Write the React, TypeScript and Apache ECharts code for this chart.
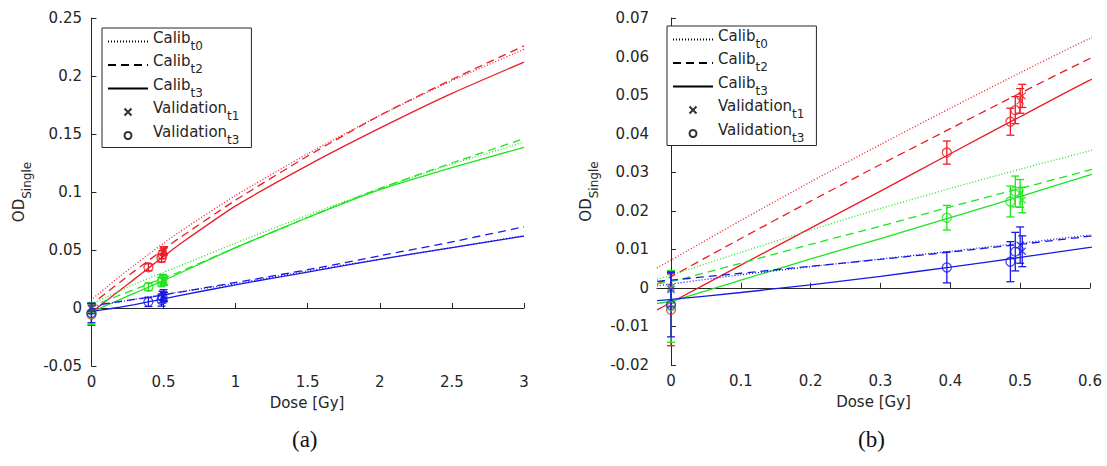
import React, { useEffect, useRef } from 'react';
import * as echarts from 'echarts';

// ---------- data ----------
const calibDose = [-0.02, 0, 0.1, 0.2, 0.3, 0.4, 0.5, 0.6, 1, 1.5, 2, 2.5, 3];
const redCalibT0 = [0.0052, 0.0072, 0.0175, 0.0275, 0.0372, 0.0466, 0.0558, 0.0647, 0.097, 0.133, 0.166, 0.196, 0.223];
const redCalibT2 = [0.0009, 0.0029, 0.0128, 0.0225, 0.032, 0.0413, 0.0505, 0.0595, 0.093, 0.131, 0.166, 0.197, 0.226];
const redCalibT3 = [-0.0057, -0.0038, 0.0059, 0.0155, 0.0251, 0.0348, 0.0444, 0.0539, 0.088, 0.123, 0.155, 0.185, 0.212];
const greenCalibT0 = [0.0022, 0.0033, 0.0092, 0.015, 0.0206, 0.0258, 0.0308, 0.0356, 0.056, 0.08, 0.103, 0.124, 0.143];
const greenCalibT2 = [0.0011, 0.0016, 0.0064, 0.0113, 0.016, 0.021, 0.0258, 0.0306, 0.052, 0.078, 0.103, 0.125, 0.146];
const greenCalibT3 = [-0.004, -0.0035, 0.002, 0.0075, 0.0128, 0.0182, 0.0237, 0.0293, 0.052, 0.078, 0.102, 0.121, 0.1385];
const blueCalibT0 = [0.0005, 0.001, 0.0034, 0.0055, 0.0075, 0.0095, 0.0116, 0.0137, 0.021, 0.032, 0.042, 0.052, 0.0625];
const blueCalibT2 = [0.0017, 0.002, 0.0038, 0.0056, 0.0074, 0.0093, 0.0113, 0.0134, 0.022, 0.033, 0.045, 0.057, 0.07];
const blueCalibT3 = [-0.0033, -0.003, -0.0012, 0.0008, 0.003, 0.0054, 0.0079, 0.0105, 0.02, 0.031, 0.042, 0.052, 0.062];

// validation points: [dose, OD, error]
const redValT1 = [[0, 0.0002, 0.004], [0.5, 0.0485, 0.0032], [0.503, 0.0498, 0.003]];
const redValT3 = [[0, -0.0057, 0.0093], [0.395, 0.0351, 0.003], [0.486, 0.0431, 0.0035], [0.493, 0.0461, 0.0035]];
const greenValT1 = [[0, 0.0, 0.004], [0.5, 0.0245, 0.0036], [0.503, 0.0228, 0.0033]];
const greenValT3 = [[0, -0.0048, 0.0093], [0.395, 0.0182, 0.0032], [0.486, 0.0224, 0.004], [0.493, 0.025, 0.004]];
const blueValT1 = [[0, -0.0004, 0.0045], [0.5, 0.0111, 0.0047], [0.503, 0.0095, 0.004]];
const blueValT3 = [[0, -0.0044, 0.0083], [0.395, 0.0053, 0.004], [0.486, 0.0068, 0.0052], [0.493, 0.0094, 0.005]];

const xTicksA = [0, 0.5, 1, 1.5, 2, 2.5, 3];
const xTicksB = [0, 0.1, 0.2, 0.3, 0.4, 0.5, 0.6];
const legendNames = ['Calib_t0', 'Calib_t2', 'Calib_t3', 'Validation_t1', 'Validation_t3'];
const captions = ['(a)', '(b)'];

// ---------- styles ----------
const RED = 'rgb(236,28,36)';
const GREEN = 'rgb(30,228,30)';
const BLUE = 'rgb(25,25,230)';
const AX = '#262626';
const FONT = 'DejaVu Sans';
const DOTTED = [1, 2];
const DASHED = [8, 5];
const XPATH = 'path://M0,0L10,10M10,0L0,10';

const colorGroups = [
  { color: RED, calib: [redCalibT0, redCalibT2, redCalibT3], t1: redValT1, t3: redValT3 },
  { color: GREEN, calib: [greenCalibT0, greenCalibT2, greenCalibT3], t1: greenValT1, t3: greenValT3 },
  { color: BLUE, calib: [blueCalibT0, blueCalibT2, blueCalibT3], t1: blueValT1, t3: blueValT3 },
];
const calibDash = [DOTTED, DASHED, 'solid'];

const subRich = {
  m: { fontSize: 15, fontFamily: FONT, color: AX, padding: [0, 0, 8, 0] },
  s: { fontSize: 12, fontFamily: FONT, color: AX, padding: [8, 0, 0, 0] },
};
const subFmt = (name: string) => {
  const [a, b] = name.split('_');
  return `{m|${a}}{s|${b}}`;
};

function buildSeries() {
  const series: any[] = [];
  [0, 1].forEach((p) => {
    colorGroups.forEach((g) => {
      g.calib.forEach((vals, k) => {
        series.push({
          type: 'line',
          xAxisIndex: p,
          yAxisIndex: p,
          data: calibDose.map((d, i) => [d, vals[i]]),
          symbol: 'none',
          smooth: 0.2,
          lineStyle: { color: g.color, width: 1.3, type: calibDash[k] },
          silent: true,
          z: 2,
        });
      });
      series.push({
        type: 'custom',
        xAxisIndex: p,
        yAxisIndex: p,
        data: [...g.t1, ...g.t3],
        dimensions: ['x', 'y', 'err'],
        encode: { x: 0, y: 1 },
        clip: false,
        z: 3,
        renderItem: (params: any, api: any) => {
          const x = api.value(0);
          const y = api.value(1);
          const e = api.value(2);
          const top = api.coord([x, y + e]);
          const bot = api.coord([x, y - e]);
          const hw = 4;
          const st = { stroke: g.color, lineWidth: 1.3 };
          return {
            type: 'group',
            children: [
              { type: 'line', shape: { x1: top[0], y1: top[1], x2: bot[0], y2: bot[1] }, style: st },
              { type: 'line', shape: { x1: top[0] - hw, y1: top[1], x2: top[0] + hw, y2: top[1] }, style: st },
              { type: 'line', shape: { x1: bot[0] - hw, y1: bot[1], x2: bot[0] + hw, y2: bot[1] }, style: st },
            ],
          };
        },
      });
      series.push({
        type: 'scatter',
        xAxisIndex: p,
        yAxisIndex: p,
        data: g.t1.map((r) => [r[0], r[1]]),
        symbol: XPATH,
        symbolSize: 7,
        clip: false,
        z: 4,
        itemStyle: { color: 'transparent', borderColor: g.color, borderWidth: 1.3 },
      });
      series.push({
        type: 'scatter',
        xAxisIndex: p,
        yAxisIndex: p,
        data: g.t3.map((r) => [r[0], r[1]]),
        symbol: 'circle',
        symbolSize: 9,
        clip: false,
        z: 4,
        itemStyle: { color: 'transparent', borderColor: g.color, borderWidth: 1.3 },
      });
    });
  });
  // legend-only series (black)
  legendNames.slice(0, 3).forEach((n, k) => {
    series.push({
      name: n,
      type: 'line',
      data: [],
      symbol: 'none',
      lineStyle: { color: '#000', width: 1.2, type: calibDash[k] },
      itemStyle: { color: '#000' },
    });
  });
  series.push({
    name: legendNames[3],
    type: 'scatter',
    data: [],
    symbol: XPATH,
    itemStyle: { color: 'transparent', borderColor: '#000', borderWidth: 1.2 },
  });
  series.push({
    name: legendNames[4],
    type: 'scatter',
    data: [],
    symbol: 'circle',
    itemStyle: { color: 'transparent', borderColor: '#000', borderWidth: 1.2 },
  });
  return series;
}

const axisCommon = {
  axisLine: { show: true, lineStyle: { color: AX, width: 1 } },
  axisTick: { show: true, inside: true, length: 5, lineStyle: { color: AX } },
  splitLine: { show: false },
  axisLabel: { color: AX, fontFamily: FONT, fontSize: 15, margin: 8 },
};

function buildOption(): any {
  const grids = [
    { left: 90, top: 18, width: 434, height: 348 },
    { left: 657, top: 18, width: 433, height: 347 },
  ];
  const xAxes = [
    { min: -0.01, max: 3, ticks: xTicksA },
    { min: -0.02, max: 0.6, ticks: xTicksB },
  ].map((a, i) => ({
    type: 'value',
    gridIndex: i,
    min: a.min,
    max: a.max,
    ...axisCommon,
    axisTick: { ...axisCommon.axisTick, customValues: a.ticks },
    axisLabel: { ...axisCommon.axisLabel, customValues: a.ticks },
    name: 'Dose [Gy]',
    nameLocation: 'middle',
    nameGap: 29,
    nameTextStyle: { color: AX, fontFamily: FONT, fontSize: 15 },
  }));
  const yAxes = [
    { min: -0.05, max: 0.25, interval: 0.05 },
    { min: -0.02, max: 0.07, interval: 0.01 },
  ].map((a, i) => ({
    type: 'value',
    gridIndex: i,
    min: a.min,
    max: a.max,
    interval: a.interval,
    ...axisCommon,
    name: '{m|OD}{s|Single}',
    nameLocation: 'middle',
    nameRotate: 90,
    nameGap: 56,
    nameTextStyle: { rich: subRich },
  }));
  const legendData = legendNames.map((n, k) =>
    k < 3 ? { name: n, itemStyle: { opacity: 0 } } : { name: n }
  );
  const legends = [
    { left: 102, top: 28 },
    { left: 667, top: 26 },
  ].map((l) => ({
    orient: 'vertical',
    left: l.left,
    top: l.top,
    data: legendData,
    selectedMode: false,
    itemWidth: 40,
    itemHeight: 7,
    itemGap: 2,
    padding: [2, 12, 2, 5],
    borderColor: AX,
    borderWidth: 1,
    borderRadius: 0,
    backgroundColor: '#fff',
    formatter: subFmt,
    textStyle: { color: AX, rich: subRich },
  }));
  return {
    animation: false,
    backgroundColor: '#fff',
    grid: grids,
    xAxis: xAxes,
    yAxis: yAxes,
    legend: legends,
    series: buildSeries(),
    graphic: captions.map((c, i) => ({
      type: 'text',
      left: i === 0 ? 292 : 858,
      top: 428,
      style: { text: c, font: '23px "Liberation Serif", serif', fill: '#111' },
    })),
  };
}

export default function App() {
  const ref = useRef<HTMLDivElement>(null);
  useEffect(() => {
    const chart = echarts.init(ref.current!, null, { renderer: 'svg' });
    chart.setOption(buildOption());
    return () => chart.dispose();
  }, []);
  return (
    <div
      ref={ref}
      style={{ position: 'absolute', left: 0, top: 0, width: 1107, height: 466, background: '#fff' }}
    />
  );
}
